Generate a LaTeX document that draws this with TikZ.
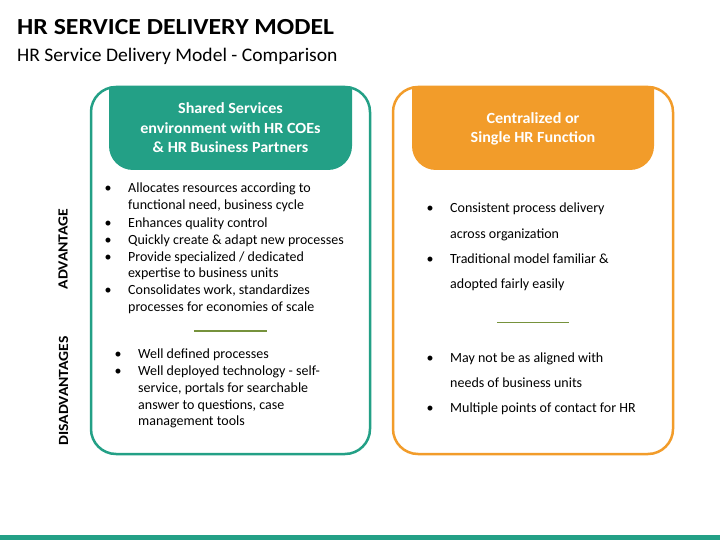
\documentclass[tikz,border=0pt]{standalone}
\usepackage{fontspec}
\setmainfont{Carlito}
\newfontfamily\wideb{Carlito}[FakeStretch=1.12]
\newfontfamily\semiwide{Carlito}[FakeStretch=1.04]
\newfontfamily\subfont{Carlito}[FakeStretch=1.02]
\definecolor{hrgreen}{HTML}{23A086}
\definecolor{hrorange}{HTML}{F29C2A}
\definecolor{olive}{HTML}{76923C}
\begin{document}
\begin{tikzpicture}[x=1pt,y=-1pt,
  txt/.style={inner sep=0pt, anchor=base west, font=\fontsize{14}{16}\selectfont},
  bul/.style={inner sep=0pt, anchor=base, font=\fontsize{14}{16}\selectfont},
  head/.style={inner sep=0pt, anchor=base, text=white, font=\semiwide\fontsize{15.5}{18}\selectfont\bfseries},
  side/.style={inner sep=0pt, rotate=90, font=\wideb\fontsize{14}{16}\selectfont\bfseries},
  boxline/.style={line width=2.5pt, rounded corners=25pt}
]
\useasboundingbox (0,0) rectangle (720,540);
\fill[white] (0,0) rectangle (720,540);
% bottom bar
\fill[hrgreen] (0,535) rectangle (720,540);
% titles
\node[inner sep=0pt, anchor=base west, font=\wideb\fontsize{23}{26}\selectfont\bfseries] (title) at (17,35) {HR SERVICE DELIVERY MODEL};
\node[inner sep=0pt, anchor=base west, font=\subfont\fontsize{19.2}{22}\selectfont] (subtitle) at (17,62) {HR Service Delivery Model - Comparison};
% left box
\draw[boxline, draw=hrgreen] (91,87) rectangle (370,454);
\fill[hrgreen, rounded corners=24pt] (109,87) -- (109,170) -- (352,170) -- (352,87);
\node[head] (lh1) at (230.5,114) {Shared Services};
\node[head] (lh2) at (230.5,133.5) {environment with HR COEs};
\node[head] (lh3) at (230.5,153) {\& HR Business Partners};
% right box
\draw[boxline, draw=hrorange] (393,87) rectangle (673,454);
\fill[hrorange, rounded corners=24pt] (412,87) -- (412,170) -- (654,170) -- (654,87);
\node[head] (rh1) at (533,124) {Centralized or};
\node[head] (rh2) at (533,143) {Single HR Function};
% side labels
\node[side] (adv) at (63,249) {ADVANTAGE};
\node[side] (dis) at (63.5,391) {DISADVANTAGES};
% left advantages
\node[bul] (lb1) at (108,193) {•};
\node[txt] (la1) at (128,193) {Allocates resources according to};
\node[txt] (la1b) at (128,210) {functional need, business cycle};
\node[bul] (lb2) at (108,227) {•};
\node[txt] (la2) at (128,227) {Enhances quality control};
\node[bul] (lb3) at (108,244) {•};
\node[txt] (la3) at (128,244) {Quickly create \& adapt new processes};
\node[bul] (lb4) at (108,261) {•};
\node[txt] (la4) at (128,261) {Provide specialized / dedicated};
\node[txt] (la4b) at (128,277.5) {expertise to business units};
\node[bul] (lb5) at (108,294.5) {•};
\node[txt] (la5) at (128,294.5) {Consolidates work, standardizes};
\node[txt] (la5b) at (128,311.5) {processes for economies of scale};
% left divider
\draw[olive, line width=1.2pt] (194,331) -- (267,331);
% left disadvantages
\node[bul] (ld1b) at (118,358.5) {•};
\node[txt] (ld1) at (138,358.5) {Well defined processes};
\node[bul] (ld2b) at (118,375.5) {•};
\node[txt] (ld2) at (138,375.5) {Well deployed technology - self-};
\node[txt] (ld2b2) at (138,392) {service, portals for searchable};
\node[txt] (ld2c) at (138,409) {answer to questions, case};
\node[txt] (ld2d) at (138,425.5) {management tools};
% right advantages
\node[bul] (rb1) at (430,213) {•};
\node[txt] (ra1) at (450,213) {Consistent process delivery};
\node[txt] (ra1b) at (450,238) {across organization};
\node[bul] (rb2) at (430,263) {•};
\node[txt] (ra2) at (450,263) {Traditional model familiar \&};
\node[txt] (ra2b) at (450,288) {adopted fairly easily};
% right divider
\draw[olive, line width=1.2pt] (497,322.5) -- (569,322.5);
% right disadvantages
\node[bul] (rd1b) at (430,362) {•};
\node[txt] (rd1) at (450,362) {May not be as aligned with};
\node[txt] (rd1c) at (450,387) {needs of business units};
\node[bul] (rd2b) at (430,412) {•};
\node[txt] (rd2) at (450,412) {Multiple points of contact for HR};
\end{tikzpicture}
\end{document}
